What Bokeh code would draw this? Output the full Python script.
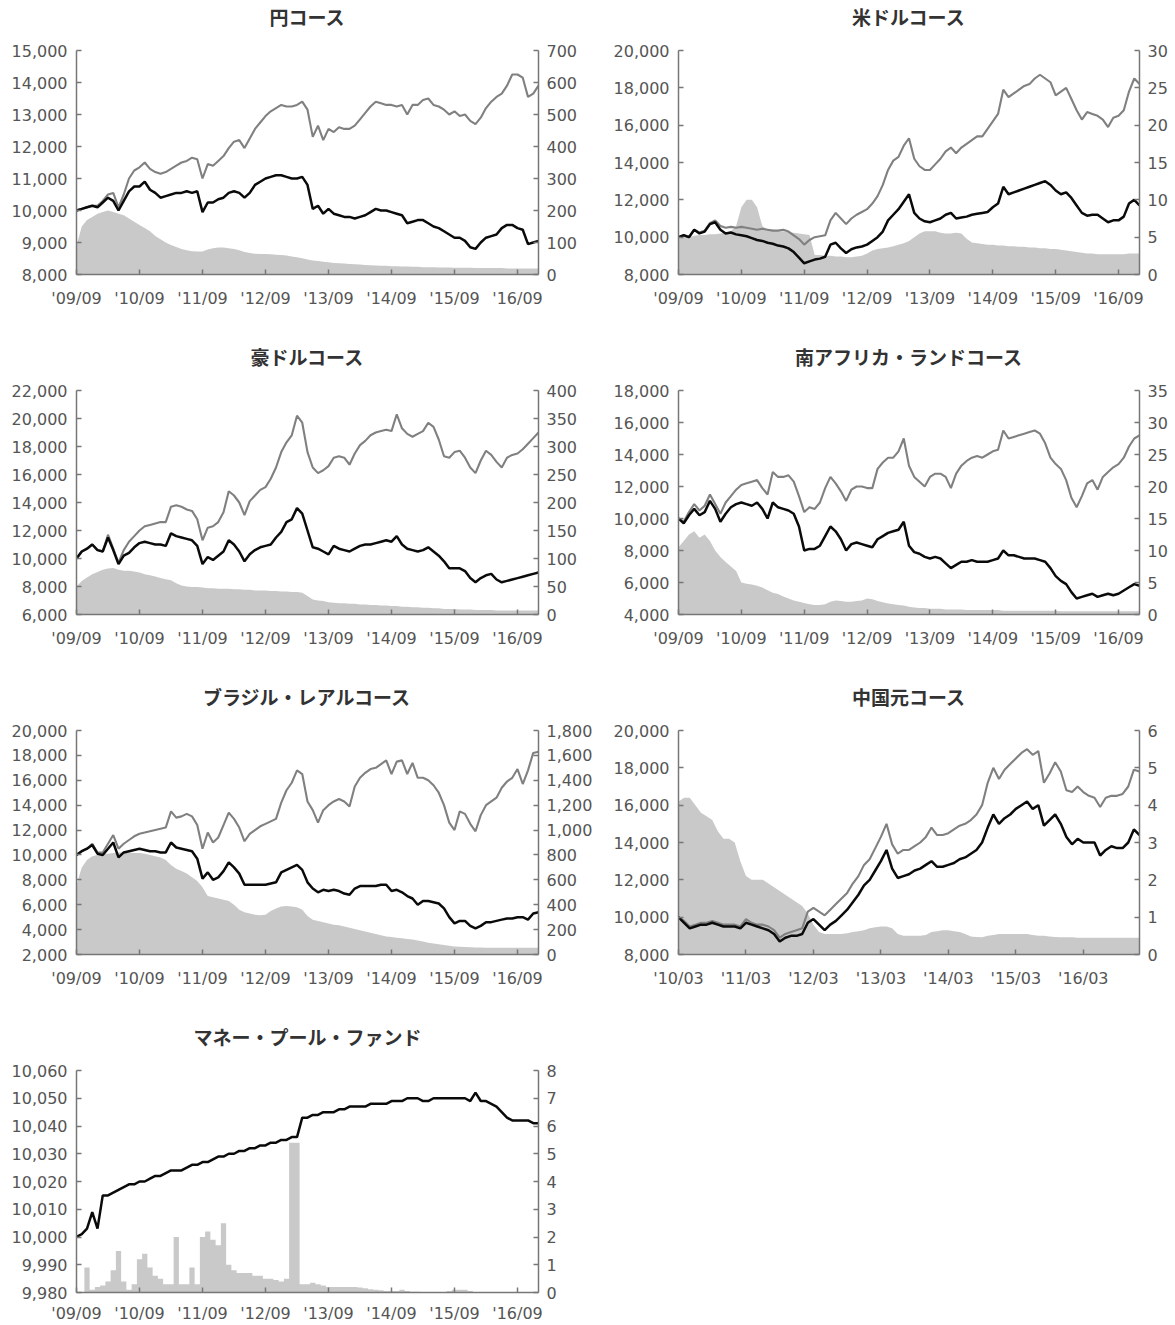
from bokeh.plotting import figure
from bokeh.models import Range1d, LinearAxis, FixedTicker, NumeralTickFormatter, Title
from bokeh.layouts import gridplot
from bokeh.embed import file_html
from bokeh.resources import INLINE

# ---------------- data (monthly) ----------------
labels_0909 = ["'09/09", "'10/09", "'11/09", "'12/09", "'13/09", "'14/09", "'15/09", "'16/09"]
labels_1003 = ["'10/03", "'11/03", "'12/03", "'13/03", "'14/03", "'15/03", "'16/03"]

jpy_nav = [10000, 10050, 10100, 10150, 10100, 10250, 10400, 10300, 10000, 10300,
           10600, 10750, 10750, 10900, 10650, 10550, 10400, 10450, 10500, 10550,
           10550, 10600, 10550, 10600, 9950, 10250, 10250, 10350, 10400, 10550,
           10600, 10550, 10400, 10550, 10800, 10900, 11000, 11050, 11100, 11100,
           11050, 11000, 11000, 11050, 10800, 10050, 10150, 9900, 10050, 9900,
           9850, 9800, 9800, 9750, 9800, 9850, 9950, 10050, 10000, 10000,
           9950, 9900, 9850, 9600, 9650, 9700, 9700, 9600, 9500, 9450,
           9350, 9250, 9150, 9150, 9050, 8850, 8800, 9000, 9150, 9200,
           9250, 9450, 9550, 9550, 9450, 9400, 8950, 9000, 9050]
jpy_div = [10000, 10050, 10100, 10150, 10150, 10300, 10500, 10550, 10100, 10500,
           11000, 11250, 11350, 11500, 11300, 11200, 11150, 11200, 11300, 11400,
           11500, 11550, 11650, 11600, 11000, 11450, 11400, 11550, 11700, 11950,
           12150, 12200, 11950, 12250, 12550, 12750, 12950, 13100, 13200, 13300,
           13250, 13250, 13300, 13400, 13150, 12300, 12650, 12200, 12550, 12450,
           12600, 12550, 12550, 12650, 12850, 13050, 13250, 13400, 13350, 13300,
           13300, 13250, 13300, 13000, 13300, 13300, 13450, 13500, 13300, 13250,
           13150, 13000, 13100, 12950, 13000, 12800, 12700, 12900, 13200, 13400,
           13550, 13650, 13900, 14250, 14250, 14150, 13550, 13650, 13900]
jpy_assets = [90, 150, 170, 180, 190, 195, 200, 195, 190, 185,
              175, 165, 155, 145, 135, 120, 110, 100, 92, 86,
              80, 76, 73, 72, 72, 78, 82, 84, 84, 82,
              80, 76, 70, 67, 65, 64, 64, 63, 62, 61,
              59, 56, 54, 51, 47, 44, 42, 40, 38, 36,
              35, 34, 33, 32, 31, 30, 29, 28, 27, 27,
              26, 26, 25, 25, 24, 24, 23, 23, 23, 22,
              22, 22, 21, 21, 21, 21, 20, 20, 20, 20,
              20, 20, 19, 19, 19, 19, 19, 19, 19]

usd_nav = [10000, 10100, 10000, 10400, 10200, 10300, 10700, 10800, 10400, 10200,
           10250, 10150, 10100, 10050, 9950, 9850, 9800, 9700, 9650, 9550,
           9500, 9400, 9200, 8900, 8600, 8700, 8800, 8850, 8950, 9600,
           9700, 9400, 9150, 9350, 9450, 9500, 9600, 9800, 10000, 10300,
           10900, 11200, 11500, 11900, 12300, 11300, 11000, 10850, 10800, 10900,
           11000, 11200, 11300, 11000, 11050, 11100, 11200, 11250, 11300, 11350,
           11600, 11800, 12700, 12300, 12400, 12500, 12600, 12700, 12800, 12900,
           13000, 12800, 12500, 12300, 12400, 12100, 11700, 11300, 11150, 11200,
           11200, 11000, 10800, 10900, 10900, 11100, 11800, 12000, 11700]
usd_div = [10000, 10100, 10000, 10400, 10250, 10350, 10750, 10900, 10600, 10500,
           10550, 10500, 10550, 10500, 10450, 10400, 10450, 10400, 10350, 10350,
           10400, 10300, 10100, 9900, 9600, 9850, 10000, 10050, 10100, 10900,
           11300, 11000, 10700, 11000, 11200, 11350, 11500, 11800, 12200, 12800,
           13600, 14100, 14300, 14900, 15300, 14200, 13800, 13600, 13600, 13900,
           14200, 14600, 14800, 14500, 14800, 15000, 15200, 15400, 15400, 15800,
           16200, 16600, 17900, 17500, 17700, 17900, 18100, 18200, 18500, 18700,
           18500, 18300, 17600, 17800, 18000, 17400, 16800, 16300, 16700, 16600,
           16500, 16300, 15900, 16400, 16500, 16800, 17800, 18500, 18200]
usd_assets = [4.8, 5.0, 5.0, 5.2, 5.3, 5.3, 5.4, 5.4, 5.5, 5.6,
              5.8, 6.5, 9.0, 10.0, 10.0, 9.0, 6.5, 6.0, 6.0, 5.8,
              5.8, 5.7, 5.6, 5.5, 5.4, 5.3, 2.6, 2.6, 2.5, 2.5,
              2.4, 2.4, 2.3, 2.3, 2.4, 2.5, 2.8, 3.2, 3.4, 3.5,
              3.6, 3.8, 4.0, 4.2, 4.5, 5.0, 5.5, 5.8, 5.8, 5.8,
              5.6, 5.5, 5.5, 5.6, 5.5, 4.8, 4.3, 4.2, 4.1, 4.0,
              4.0, 3.9, 3.9, 3.8, 3.8, 3.7, 3.7, 3.6, 3.6, 3.5,
              3.5, 3.4, 3.4, 3.3, 3.2, 3.1, 3.0, 2.9, 2.8, 2.8,
              2.7, 2.7, 2.7, 2.7, 2.7, 2.7, 2.8, 2.8, 2.8]

aud_nav = [10000, 10500, 10700, 11000, 10600, 10500, 11500, 10600, 9600, 10200,
           10400, 10800, 11100, 11200, 11100, 11000, 11000, 10900, 11800, 11600,
           11500, 11400, 11300, 10900, 9600, 10100, 9900, 10200, 10500, 11300,
           11000, 10500, 9800, 10300, 10600, 10800, 10900, 11000, 11500, 11900,
           12600, 12800, 13600, 13200, 12000, 10800, 10700, 10500, 10300, 10900,
           10700, 10600, 10500, 10700, 10900, 11000, 11000, 11100, 11200, 11300,
           11200, 11600, 11000, 10700, 10600, 10500, 10600, 10800, 10500, 10200,
           9800, 9300, 9300, 9300, 9100, 8600, 8300, 8600, 8800, 8900,
           8500, 8300, 8400, 8500, 8600, 8700, 8800, 8900, 9000]
aud_div = [10000, 10500, 10700, 11000, 10600, 10500, 11700, 10700, 9700, 10600,
           11200, 11600, 12000, 12300, 12400, 12500, 12600, 12600, 13700, 13800,
           13700, 13500, 13400, 12800, 11300, 12200, 12300, 12600, 13300, 14800,
           14500, 14000, 13100, 14100, 14500, 14900, 15100, 15700, 16500, 17600,
           18300, 18800, 20200, 19700, 17600, 16500, 16100, 16300, 16600, 17200,
           17300, 17200, 16700, 17500, 18100, 18400, 18800, 19000, 19100, 19200,
           19100, 20300, 19300, 18900, 18700, 18900, 19100, 19700, 19400, 18500,
           17300, 17200, 17600, 17700, 17200, 16500, 16100, 17000, 17700, 17400,
           16900, 16500, 17200, 17400, 17500, 17800, 18200, 18600, 19000]
aud_assets = [50, 60, 66, 72, 76, 80, 82, 83, 80, 78,
              78, 77, 75, 72, 70, 68, 65, 63, 61, 56,
              52, 50, 49, 49, 48, 47, 47, 46, 46, 46,
              45, 45, 44, 44, 43, 43, 43, 42, 42, 41,
              41, 40, 40, 39, 33, 27, 25, 24, 22, 21,
              20, 20, 19, 19, 18, 18, 17, 17, 16, 16,
              15, 15, 14, 14, 13, 13, 12, 12, 11, 11,
              10, 10, 10, 9, 9, 9, 8, 8, 8, 8,
              7, 7, 7, 7, 7, 7, 7, 7, 7]

zar_nav = [10000, 9700, 10200, 10600, 10200, 10400, 11100, 10600, 9800, 10300,
           10700, 10900, 11000, 10900, 10800, 11000, 10600, 10000, 11000, 10700,
           10600, 10500, 10300, 9500, 8000, 8100, 8100, 8300, 8900, 9500,
           9200, 8700, 8000, 8400, 8500, 8400, 8300, 8200, 8700, 8900,
           9100, 9200, 9300, 9800, 8300, 7900, 7800, 7600, 7500, 7600,
           7500, 7200, 6900, 7100, 7300, 7300, 7400, 7300, 7300, 7300,
           7400, 7500, 8000, 7700, 7700, 7600, 7500, 7500, 7500, 7400,
           7300, 6900, 6400, 6100, 5900, 5400, 5000, 5100, 5200, 5300,
           5100, 5200, 5300, 5200, 5300, 5500, 5700, 5900, 5800]
zar_div = [10000, 9800, 10400, 10900, 10500, 10800, 11500, 10900, 10300, 11000,
           11400, 11800, 12100, 12200, 12300, 12400, 11900, 11500, 12900, 12600,
           12600, 12700, 12300, 11400, 10400, 10700, 10600, 11000, 11900, 12600,
           12200, 11700, 11100, 11800, 12000, 12000, 11900, 11900, 13100, 13500,
           13800, 13800, 14200, 15000, 13300, 12600, 12300, 12000, 12600, 12800,
           12800, 12600, 11900, 12800, 13300, 13600, 13800, 13900, 13800, 14000,
           14200, 14300, 15500, 15000, 15100, 15200, 15300, 15400, 15500, 15300,
           14700, 13800, 13400, 13100, 12400, 11300, 10700, 11400, 12200, 12400,
           11800, 12600, 12900, 13200, 13400, 13800, 14500, 15000, 15200]
zar_assets = [10.5, 11.5, 12.5, 13.0, 12.0, 12.5, 11.5, 10.0, 9.0, 8.2,
              7.5, 6.8, 5.0, 4.8, 4.7, 4.5, 4.2, 3.8, 3.4, 3.2,
              2.8, 2.5, 2.2, 2.0, 1.8, 1.6, 1.5, 1.5, 1.6, 2.0,
              2.2, 2.1, 2.0, 2.0, 2.1, 2.2, 2.5, 2.4, 2.1, 1.9,
              1.7, 1.6, 1.5, 1.4, 1.2, 1.1, 1.0, 1.0, 0.9, 0.9,
              0.9, 0.8, 0.8, 0.8, 0.8, 0.7, 0.7, 0.7, 0.7, 0.7,
              0.7, 0.7, 0.6, 0.6, 0.6, 0.6, 0.6, 0.6, 0.6, 0.6,
              0.6, 0.6, 0.6, 0.5, 0.5, 0.5, 0.5, 0.5, 0.5, 0.5,
              0.5, 0.5, 0.5, 0.5, 0.5, 0.5, 0.5, 0.5, 0.5]

brl_nav = [10000, 10300, 10500, 10800, 10100, 10000, 10500, 11000, 9800, 10200,
           10300, 10400, 10500, 10400, 10300, 10300, 10200, 10200, 11000, 10600,
           10500, 10400, 10300, 9700, 8100, 8600, 8000, 8200, 8700, 9400,
           9000, 8500, 7600, 7600, 7600, 7600, 7600, 7700, 7800, 8600,
           8800, 9000, 9200, 8800, 7800, 7300, 7000, 7200, 7100, 7200,
           7100, 6900, 6800, 7300, 7500, 7500, 7500, 7500, 7600, 7600,
           7100, 7200, 7000, 6700, 6500, 6000, 6300, 6300, 6200, 6100,
           5700, 5000, 4500, 4700, 4700, 4300, 4100, 4300, 4600, 4600,
           4700, 4800, 4900, 4900, 5000, 5000, 4800, 5300, 5400]
brl_div = [10000, 10300, 10500, 10900, 10200, 10200, 10900, 11600, 10500, 10900,
           11200, 11500, 11700, 11800, 11900, 12000, 12100, 12200, 13500, 13000,
           13100, 13300, 13100, 12400, 10500, 11800, 11000, 11400, 12400, 13400,
           12900, 12200, 11100, 11700, 12000, 12300, 12500, 12700, 12900, 14200,
           15200, 15800, 16800, 16500, 14300, 13600, 12600, 13600, 14000, 14300,
           14500, 14300, 13900, 15500, 16200, 16600, 16900, 17000, 17300, 17600,
           16500, 17500, 17600, 16500, 17400, 16200, 16200, 16000, 15600, 15000,
           14000, 12600, 12000, 13500, 13300, 12500, 11900, 13200, 14000, 14300,
           14600, 15400, 15900, 16200, 16900, 15700, 16800, 18200, 18300]
brl_assets = [560, 700, 760, 790, 800, 810, 810, 815, 820, 820,
              820, 815, 815, 810, 800, 790, 780, 760, 720, 690,
              670, 650, 620, 590, 540, 470, 460, 450, 440, 430,
              400, 360, 340, 330, 320, 315, 320, 350, 370, 385,
              390, 385, 380, 360, 310, 280, 270, 260, 250, 240,
              235, 225, 215, 205, 195, 185, 175, 165, 155, 145,
              140, 135, 130, 125, 120, 112, 105, 95, 88, 82,
              76, 70, 65, 62, 60, 58, 57, 56, 55, 55,
              55, 55, 55, 55, 55, 55, 55, 55, 55]

cny_nav = [10000, 9700, 9400, 9500, 9600, 9600, 9700, 9600, 9500, 9500,
           9500, 9400, 9700, 9600, 9500, 9400, 9300, 9100, 8700, 8900,
           9000, 9000, 9100, 9700, 9900, 9600, 9300, 9600, 9800, 10100,
           10400, 10800, 11200, 11700, 12000, 12500, 13000, 13600, 12600, 12100,
           12200, 12300, 12500, 12600, 12800, 13000, 12700, 12700, 12800, 12900,
           13100, 13200, 13400, 13600, 14000, 14800, 15500, 15000, 15300, 15500,
           15800, 16000, 16200, 15800, 16000, 14900, 15200, 15500, 15000, 14300,
           13900, 14200, 14000, 14000, 14000, 13300, 13600, 13800, 13700, 13700,
           14000, 14700, 14400]
cny_div = [10000, 9800, 9500, 9600, 9700, 9700, 9800, 9700, 9600, 9600,
           9600, 9500, 9900, 9700, 9600, 9600, 9500, 9300, 8900, 9100,
           9200, 9300, 9400, 10300, 10500, 10300, 10100, 10400, 10700, 11000,
           11300, 11800, 12200, 12800, 13100, 13700, 14300, 15000, 13900, 13400,
           13600, 13600, 13800, 14000, 14300, 14800, 14400, 14400, 14500, 14700,
           14900, 15000, 15200, 15500, 16000, 17200, 18000, 17400, 17900, 18200,
           18500, 18800, 19000, 18700, 18900, 17200, 17700, 18300, 17800, 16800,
           16700, 17000, 16700, 16500, 16400, 15900, 16400, 16500, 16500, 16600,
           17000, 17900, 17800]
cny_assets = [4.1, 4.2, 4.2, 4.0, 3.8, 3.7, 3.6, 3.3, 3.1, 3.1,
              3.0, 2.5, 2.1, 2.0, 2.0, 2.0, 1.9, 1.8, 1.7, 1.6,
              1.5, 1.4, 1.3, 1.1, 0.8, 0.6, 0.55, 0.55, 0.55, 0.55,
              0.57, 0.6, 0.62, 0.65, 0.7, 0.73, 0.75, 0.75, 0.7, 0.55,
              0.5, 0.5, 0.5, 0.5, 0.52, 0.6, 0.62, 0.65, 0.65, 0.62,
              0.6, 0.55, 0.48, 0.47, 0.46, 0.5, 0.52, 0.55, 0.55, 0.55,
              0.55, 0.55, 0.55, 0.52, 0.5, 0.5, 0.48, 0.47, 0.46, 0.46,
              0.46, 0.45, 0.45, 0.45, 0.45, 0.45, 0.45, 0.45, 0.45, 0.45,
              0.45, 0.45, 0.45]

mmf_nav = [10000, 10001, 10003, 10009, 10003, 10015, 10015, 10016, 10017, 10018,
           10019, 10019, 10020, 10020, 10021, 10022, 10022, 10023, 10024, 10024,
           10024, 10025, 10026, 10026, 10027, 10027, 10028, 10029, 10029, 10030,
           10030, 10031, 10031, 10032, 10032, 10033, 10033, 10034, 10034, 10035,
           10035, 10036, 10036, 10043, 10043, 10044, 10044, 10045, 10045, 10045,
           10046, 10046, 10047, 10047, 10047, 10047, 10048, 10048, 10048, 10048,
           10049, 10049, 10049, 10050, 10050, 10050, 10049, 10049, 10050, 10050,
           10050, 10050, 10050, 10050, 10050, 10049, 10052, 10049, 10049, 10048,
           10047, 10045, 10043, 10042, 10042, 10042, 10042, 10041, 10041]
mmf_assets = [0, 0, 0.9, 0.1, 0.2, 0.25, 0.4, 0.8, 1.5, 0.4,
              0.1, 0.3, 1.2, 1.4, 0.9, 0.6, 0.5, 0.3, 0.3, 2.0,
              0.3, 0.3, 0.9, 0.3, 2.0, 2.2, 1.9, 1.7, 2.5, 1.0,
              0.8, 0.7, 0.7, 0.7, 0.6, 0.6, 0.5, 0.5, 0.45, 0.4,
              0.5, 5.4, 5.4, 0.3, 0.3, 0.35, 0.3, 0.25, 0.2, 0.2,
              0.2, 0.2, 0.2, 0.2, 0.18, 0.15, 0.12, 0.1, 0.08, 0.05,
              0.05, 0.05, 0.1, 0.05, 0.03, 0.03, 0.02, 0.02, 0.02, 0.02,
              0.02, 0.05, 0.1, 0.1, 0.1, 0.05, 0.02, 0, 0, 0,
              0, 0, 0, 0, 0, 0, 0, 0, 0]

jpy_left = [8000, 9000, 10000, 11000, 12000, 13000, 14000, 15000]
jpy_right = [0, 100, 200, 300, 400, 500, 600, 700]
usd_left = [8000, 10000, 12000, 14000, 16000, 18000, 20000]
usd_right = [0, 5, 10, 15, 20, 25, 30]
aud_left = [6000, 8000, 10000, 12000, 14000, 16000, 18000, 20000, 22000]
aud_right = [0, 50, 100, 150, 200, 250, 300, 350, 400]
zar_left = [4000, 6000, 8000, 10000, 12000, 14000, 16000, 18000]
zar_right = [0, 5, 10, 15, 20, 25, 30, 35]
brl_left = [2000, 4000, 6000, 8000, 10000, 12000, 14000, 16000, 18000, 20000]
brl_right = [0, 200, 400, 600, 800, 1000, 1200, 1400, 1600, 1800]
cny_left = [8000, 10000, 12000, 14000, 16000, 18000, 20000]
cny_right = [0, 1, 2, 3, 4, 5, 6]
mmf_left = [9980, 9990, 10000, 10010, 10020, 10030, 10040, 10050, 10060]
mmf_right = [0, 1, 2, 3, 4, 5, 6, 7, 8]

# ---------------- styling ----------------
AXIS_COLOR = "#777777"
LABEL_COLOR = "#555555"
AREA_COLOR = "#c9c9c9"
GRAY_LINE = "#808080"
BLACK_LINE = "#0a0a0a"
FRAME_H = 224


def style_axis(ax, standoff):
    ax.axis_line_color = AXIS_COLOR
    ax.axis_line_width = 1.5
    ax.major_tick_line_color = AXIS_COLOR
    ax.major_tick_line_width = 1.5
    ax.major_tick_in = 5
    ax.major_tick_out = 0
    ax.minor_tick_line_color = None
    ax.major_label_text_font = "DejaVu Sans"
    ax.major_label_text_font_size = "16px"
    ax.major_label_text_color = LABEL_COLOR
    ax.major_label_standoff = standoff


def panel(title, nav, div, assets, xlabels, left_ticks, right_ticks, left_col,
          last_row=False, step=False):
    n = len(nav)
    xs = list(range(n))
    w = 595 if left_col else 575
    top = 50
    h = 305 if last_row else 340
    bottom = h - top - FRAME_H
    p = figure(width=w, height=h, output_backend="svg", toolbar_location=None,
               title=None,
               x_range=Range1d(0, n - 1),
               y_range=Range1d(left_ticks[0], left_ticks[-1]),
               min_border_left=76 if left_col else 83,
               min_border_right=57 if left_col else 30,
               min_border_top=top, min_border_bottom=bottom)
    p.extra_y_ranges = {"r": Range1d(right_ticks[0], right_ticks[-1])}
    rax = LinearAxis(y_range_name="r")
    p.add_layout(rax, "right")

    if step:
        p.varea_step(x=xs, y1=[0] * n, y2=assets, step_mode="center",
                     y_range_name="r", fill_color=AREA_COLOR)
    else:
        p.varea(x=xs, y1=[0] * n, y2=assets, y_range_name="r",
                fill_color=AREA_COLOR)
    if div is not None:
        p.line(xs, div, line_color=GRAY_LINE, line_width=2.1)
    p.line(xs, nav, line_color=BLACK_LINE, line_width=2.5)

    p.xgrid.visible = False
    p.ygrid.visible = False
    p.outline_line_color = None
    p.background_fill_color = "white"
    p.border_fill_color = "white"

    xt = [12 * i for i in range(len(xlabels))]
    p.xaxis.ticker = FixedTicker(ticks=xt)
    p.xaxis.major_label_overrides = {t: lab for t, lab in zip(xt, xlabels)}
    style_axis(p.xaxis[0], 11 if last_row else 14)

    lax = p.yaxis[0]
    lax.ticker = FixedTicker(ticks=left_ticks)
    lax.formatter = NumeralTickFormatter(format="0,0")
    style_axis(lax, 9)

    rax.ticker = FixedTicker(ticks=right_ticks)
    rax.formatter = NumeralTickFormatter(format="0,0")
    style_axis(rax, 8)

    # title with an empty second line so it sits higher above the frame
    p.add_layout(Title(text=title + "\n ", align="center", text_font="Noto Sans CJK JP",
                       text_font_size="19px", text_font_style="bold",
                       text_line_height=0.75,
                       text_color="#333333", standoff=0), "above")
    return p


p1 = panel("円コース", jpy_nav, jpy_div, jpy_assets, labels_0909, jpy_left, jpy_right, True)
p2 = panel("米ドルコース", usd_nav, usd_div, usd_assets, labels_0909, usd_left, usd_right, False)
p3 = panel("豪ドルコース", aud_nav, aud_div, aud_assets, labels_0909, aud_left, aud_right, True)
p4 = panel("南アフリカ・ランドコース", zar_nav, zar_div, zar_assets, labels_0909, zar_left, zar_right, False)
p5 = panel("ブラジル・レアルコース", brl_nav, brl_div, brl_assets, labels_0909, brl_left, brl_right, True)
p6 = panel("中国元コース", cny_nav, cny_div, cny_assets, labels_1003, cny_left, cny_right, False)
p7 = panel("マネー・プール・ファンド", mmf_nav, None, mmf_assets, labels_0909, mmf_left, mmf_right, True,
           last_row=True, step=True)

grid = gridplot([[p1, p2], [p3, p4], [p5, p6], [p7, None]], toolbar_location=None)

open("out.html", "w").write(file_html(grid, INLINE))
